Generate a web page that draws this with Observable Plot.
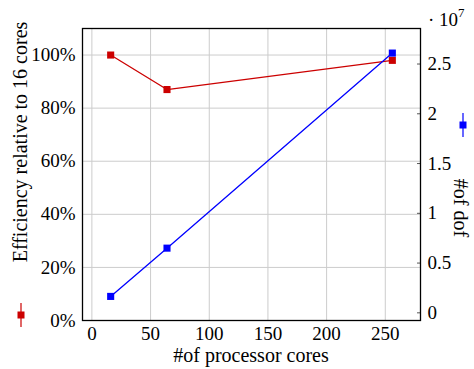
<!DOCTYPE html>
<html>
<head>
<meta charset="utf-8">
<script src="https://cdn.jsdelivr.net/npm/d3@7"></script>
<script src="https://cdn.jsdelivr.net/npm/@observablehq/plot@0.6"></script>
<style>
  body { margin: 0; background: #fff; }
  #wrap { position: relative; width: 474px; height: 369px; font-family: "Liberation Serif", serif; color: #000; }
  #wrap svg { position: absolute; left: 0; top: 0; }
  .lbl { position: absolute; font-size: 20px; white-space: nowrap; line-height: 1; }
</style>
</head>
<body>
<div id="wrap"></div>
<script>
// Data
const cores = [16, 64, 256];
const efficiency = [100, 87, 98];          // percent, relative to 16 cores
const dof = [1.65e6, 6.5e6, 2.61e7];       // number of degrees of freedom
const xTicks = [0, 50, 100, 150, 200, 250];
const effTicks = [0, 20, 40, 60, 80, 100];
const dofTicks = [0, 0.5e7, 1e7, 1.5e7, 2e7, 2.5e7];

const effData = cores.map((c, i) => ({cores: c, value: efficiency[i]}));
const dofData = cores.map((c, i) => ({cores: c, value: dof[i]}));

const W = 474, H = 369;
const common = {
  width: W, height: H,
  marginLeft: 82, marginRight: 54, marginTop: 28, marginBottom: 49,
  style: {fontFamily: "'Liberation Serif', serif", fontSize: "19px", background: "transparent", color: "#000"}
};

const red = "#cc0000", blue = "#0000ff";

const p1 = Plot.plot({
  ...common,
  x: {domain: [-8, 280]},
  y: {domain: [0, 110]},
  marks: [
    Plot.gridX(xTicks, {stroke: "#cccccc", strokeOpacity: 1, strokeWidth: 1}),
    Plot.gridY(effTicks, {stroke: "#cccccc", strokeOpacity: 1, strokeWidth: 1}),
    Plot.axisX(xTicks, {tickSize: 0, tickPadding: 6, label: null}),
    Plot.axisY(effTicks, {tickSize: 0, tickPadding: 7, tickFormat: d => d + "%", label: null}),
    Plot.line(effData, {x: "cores", y: "value", stroke: red, strokeWidth: 1.3}),
    Plot.dot(effData, {x: "cores", y: "value", symbol: "square", r: 4, fill: red, stroke: "none"})
  ]
});

const p2 = Plot.plot({
  ...common,
  x: {domain: [-8, 280], axis: null},
  y: {domain: [-0.077e7, 2.857e7]},
  marks: [
    Plot.axisY(dofTicks, {anchor: "right", tickSize: -4, tickPadding: 11, stroke: "#555", tickFormat: d => String(d / 1e7), label: null}),
    Plot.frame({stroke: "#000", strokeWidth: 1.3}),
    Plot.line(dofData, {x: "cores", y: "value", stroke: blue, strokeWidth: 1.3}),
    Plot.dot(dofData, {x: "cores", y: "value", symbol: "square", r: 4, fill: blue, stroke: "none"})
  ]
});

const wrap = document.getElementById("wrap");
for (const p of [p1, p2]) {
  p.querySelectorAll("text").forEach(t => {
    t.setAttribute("font-family", "Liberation Serif");
    t.setAttribute("font-size", "19");
    t.setAttribute("fill", "#000");
    t.style.fontFamily = "'Liberation Serif'";
    t.style.fontSize = "19px";
  });
  wrap.appendChild(p);
}

function label(text, css) {
  const d = document.createElement("div");
  d.className = "lbl";
  d.innerHTML = text;
  Object.assign(d.style, css);
  wrap.appendChild(d);
  return d;
}
label("#of processor cores", {left: "251px", top: "355px", transform: "translate(-50%,-50%)"});
label("Efficiency relative to 16 cores", {left: "20px", top: "142px", transform: "translate(-50%,-50%) rotate(-90deg)"});
label("#of dof", {left: "461px", top: "208px", transform: "translate(-50%,-50%) rotate(90deg)"});
label("&middot; 10<sup style='font-size:13px;vertical-align:9px'>7</sup>", {left: "428px", top: "6px", fontSize: "19px"});

// legend symbols
function legendSym(color, x, y) {
  const s = document.createElementNS("http://www.w3.org/2000/svg", "svg");
  s.setAttribute("width", 14); s.setAttribute("height", 30);
  s.style.left = (x - 7) + "px"; s.style.top = (y - 15) + "px";
  s.innerHTML = `<line x1="7" x2="7" y1="3" y2="27" stroke="${color}" stroke-width="1.2"/><rect x="3.5" y="11.5" width="7" height="7" fill="${color}"/>`;
  wrap.appendChild(s);
}
legendSym(red, 21, 315);
legendSym(blue, 463, 125);
</script>
</body>
</html>
